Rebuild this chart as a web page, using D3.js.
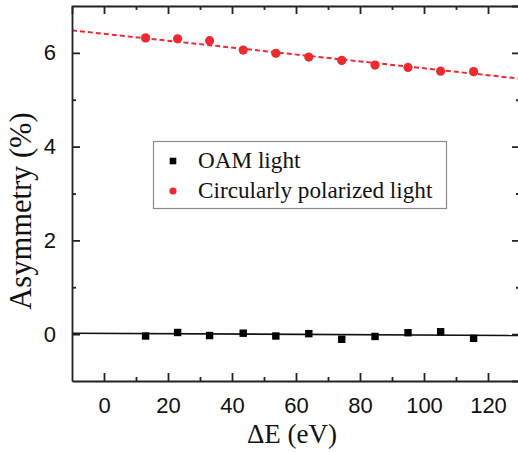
<!DOCTYPE html>
<html><head><meta charset="utf-8">
<script src="https://cdn.jsdelivr.net/npm/d3@7"></script>
<style>html,body{margin:0;padding:0;background:#fff;overflow:hidden}</style>
</head><body>
<svg id="chart" width="518" height="452"></svg>
<script>
// ---- data ----
const energies = [13, 23, 33, 43.5, 53.7, 64, 74.3, 84.7, 95, 105.2, 115.5];
const circularValues = [6.32, 6.30, 6.26, 6.06, 5.99, 5.91, 5.84, 5.74, 5.69, 5.61, 5.60];
const oamValues = [-0.04, 0.035, -0.03, 0.02, -0.04, 0.01, -0.11, -0.05, 0.03, 0.05, -0.09];
const circularFit = [[-10, 6.48], [130, 5.45]];
const oamFit = [[-10, 0.02], [130, -0.03]];
const xTicks = [0, 20, 40, 60, 80, 100, 120];
const yTicks = [0, 2, 4, 6];
const seriesNames = ["OAM light", "Circularly polarized light"];

// ---- layout ----
const svg = d3.select("#chart");
const L = 72, R = 520, T = 6, B = 381;
const x = d3.scaleLinear().domain([-10, 130]).range([L, R]);
const y = d3.scaleLinear().domain([-1, 7]).range([B, T]);
const red = "#ee2a30";
const tickFont = "'Liberation Sans', Arial, sans-serif";
const serif = "'Liberation Serif', 'Times New Roman', serif";

// fit lines
const line = d3.line().x(d => x(d[0])).y(d => y(d[1]));
svg.append("path").datum(oamFit).attr("d", line)
  .attr("fill", "none").attr("stroke", "#111").attr("stroke-width", 1.6);
svg.append("path").datum(circularFit).attr("d", line)
  .attr("fill", "none").attr("stroke", red).attr("stroke-width", 2)
  .attr("stroke-dasharray", "5,3");

// axes with inward ticks
const xMinor = d3.range(-10, 131, 10).filter(v => !xTicks.includes(v) && v > -10 && v < 130);
const yMinor = [-1, 1, 3, 5, 7].filter(v => v > -1 && v < 7);

function styleAxis(g) {
  g.selectAll("path").attr("stroke", "#222").attr("stroke-width", 1.8);
  g.selectAll("line").attr("stroke", "#222").attr("stroke-width", 1.8);
}
// bottom
const gB = svg.append("g").attr("transform", `translate(0,${B})`)
  .call(d3.axisBottom(x).tickValues(xTicks).tickSizeInner(-8).tickSizeOuter(0).tickPadding(16));
styleAxis(gB);
gB.selectAll("text").attr("font-family", tickFont).attr("font-size", 22).attr("fill", "#111");
svg.append("g").attr("transform", `translate(0,${B})`)
  .call(d3.axisBottom(x).tickValues(xMinor).tickSize(-4).tickFormat(""))
  .call(g => { g.select(".domain").remove(); styleAxis(g); });
// top
const gT = svg.append("g").attr("transform", `translate(0,${T})`)
  .call(d3.axisTop(x).tickValues(xTicks).tickSize(-8).tickFormat(""));
styleAxis(gT);
svg.append("g").attr("transform", `translate(0,${T})`)
  .call(d3.axisTop(x).tickValues(xMinor).tickSize(-4).tickFormat(""))
  .call(g => { g.select(".domain").remove(); styleAxis(g); });
// left
const gL = svg.append("g").attr("transform", `translate(${L},0)`)
  .call(d3.axisLeft(y).tickValues(yTicks).tickSizeInner(-8).tickSizeOuter(0).tickPadding(16));
styleAxis(gL);
gL.selectAll("text").attr("font-family", tickFont).attr("font-size", 22).attr("fill", "#111");
svg.append("g").attr("transform", `translate(${L},0)`)
  .call(d3.axisLeft(y).tickValues(yMinor).tickSize(-4).tickFormat(""))
  .call(g => { g.select(".domain").remove(); styleAxis(g); });
// right
const gR = svg.append("g").attr("transform", `translate(${R},0)`)
  .call(d3.axisRight(y).tickValues(yTicks).tickSize(-8).tickFormat(""));
styleAxis(gR);
svg.append("g").attr("transform", `translate(${R},0)`)
  .call(d3.axisRight(y).tickValues(yMinor).tickSize(-4).tickFormat(""))
  .call(g => { g.select(".domain").remove(); styleAxis(g); });

// markers
const sq = 7.4;
svg.append("g").selectAll("rect").data(energies).join("rect")
  .attr("x", (d) => x(d) - sq / 2)
  .attr("y", (d, i) => y(oamValues[i]) - sq / 2)
  .attr("width", sq).attr("height", sq).attr("fill", "#000");
svg.append("g").selectAll("circle").data(energies).join("circle")
  .attr("cx", d => x(d)).attr("cy", (d, i) => y(circularValues[i]))
  .attr("r", 4.6).attr("fill", red);

// legend
const lg = svg.append("g");
lg.append("rect").attr("x", 153.5).attr("y", 141.5).attr("width", 293).attr("height", 67)
  .attr("fill", "#fff").attr("stroke", "#8a8a8a").attr("stroke-width", 1.2);
lg.append("rect").attr("x", 173 - 3.3).attr("y", 161 - 3.3).attr("width", 6.6).attr("height", 6.6).attr("fill", "#000");
lg.append("circle").attr("cx", 173).attr("cy", 191).attr("r", 3.6).attr("fill", red);
lg.selectAll("text").data(seriesNames).join("text")
  .attr("x", 198).attr("y", (d, i) => 168 + i * 30)
  .attr("font-family", serif).attr("font-size", 23.2).attr("fill", "#111")
  .text(d => d);

// axis titles
svg.append("text").attr("x", (L + 518) / 2 - 3).attr("y", 443)
  .attr("text-anchor", "middle").attr("font-family", serif).attr("font-size", 27).attr("fill", "#111")
  .text("ΔE (eV)");
svg.append("text").attr("transform", `translate(31,211) rotate(-90)`)
  .attr("text-anchor", "middle").attr("font-family", serif).attr("font-size", 30.5).attr("fill", "#111")
  .text("Asymmetry (%)");
</script>
</body></html>
